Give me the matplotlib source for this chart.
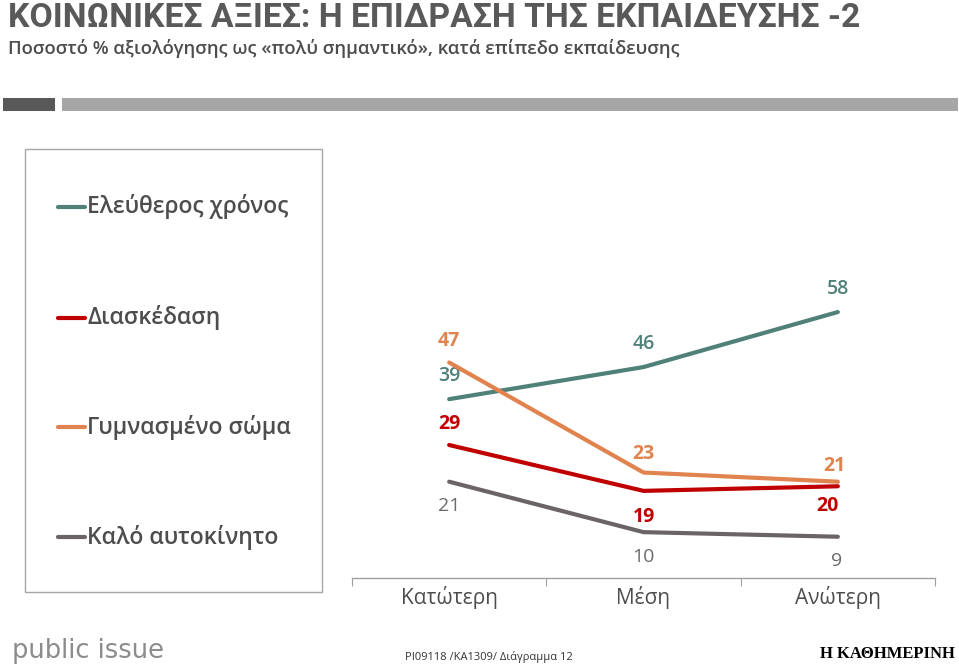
import matplotlib
matplotlib.use("Agg")
import matplotlib.pyplot as plt
from matplotlib.lines import Line2D
from matplotlib.patches import Rectangle

# ---- data ----
categories = ["Κατώτερη", "Μέση", "Ανώτερη"]
series_names = ["Ελεύθερος χρόνος", "Διασκέδαση", "Γυμνασμένο σώμα", "Καλό αυτοκίνητο"]
free_time = [39, 46, 58]
entertainment = [29, 19, 20]
fit_body = [47, 23, 21]
good_car = [21, 10, 9]

title = "ΚΟΙΝΩΝΙΚΕΣ ΑΞΙΕΣ: Η ΕΠΙΔΡΑΣΗ ΤΗΣ ΕΚΠΑΙΔΕΥΣΗΣ -2"
subtitle = "Ποσοστό % αξιολόγησης ως «πολύ σημαντικό», κατά επίπεδο εκπαίδευσης"
footer_code = "PI09118 /KA1309/ Διάγραμμα 12"

# ---- styles ----
colors = ["#4F8179", "#C00000", "#E0834E", "#6B6466"]
label_colors = ["#4F8179", "#C00000", "#E0834E", "#6B6B6B"]
label_weights = ["semibold", "bold", "bold", "normal"]
# label offsets in pixels (dx, dy) per series per point
label_offsets = [
    [(0, 23), (0, 23), (0, 23)],
    [(0, 21), (0, -26), (-10, -20)],
    [(0, 21), (0, 19), (-3, 16)],
    [(0, -24), (0, -25), (-1, -24)],
]

W, H, DPI = 959, 666, 100
FONT = ["Open Sans", "DejaVu Sans"]
TFONT = ["Roboto", "DejaVu Sans"]
TXT = "#4D4D4D"

fig = plt.figure(figsize=(W / DPI, H / DPI), dpi=DPI)
fig.patch.set_facecolor("white")

def fx(px):
    return px / W

def fy(py):
    return 1 - py / H

# header
fig.text(fx(8), fy(18), title, family=TFONT, weight="bold", fontsize=24.3,
         color="#595959", va="center", ha="left")
fig.text(fx(8), fy(49), subtitle, family=FONT, weight="semibold", fontsize=13.3,
         color=TXT, va="center", ha="left")
fig.add_artist(Rectangle((fx(3), fy(111)), fx(52), 13 / H, transform=fig.transFigure,
                         facecolor="#595959", edgecolor="none"))
fig.add_artist(Rectangle((fx(62), fy(111)), fx(896), 13 / H, transform=fig.transFigure,
                         facecolor="#A6A6A6", edgecolor="none"))

# chart axes
left, right, bottom_px, top_px = 352, 935, 578, 257
ax = fig.add_axes([fx(left), fy(bottom_px), fx(right - left), (bottom_px - top_px) / H])
ax.set_xlim(-0.5, len(categories) - 0.5)
ax.set_ylim(0, 70)
x = list(range(len(categories)))
all_series = [free_time, entertainment, fit_body, good_car]
for i, vals in enumerate(all_series):
    ax.plot(x, vals, color=colors[i], lw=3, solid_capstyle="round", zorder=3)
    for j, v in enumerate(vals):
        dx, dy = label_offsets[i][j]
        ax.annotate(str(v), (x[j], v), xytext=(dx, dy), textcoords="offset pixels",
                    ha="center", va="center", fontsize=14, family=FONT,
                    weight=label_weights[i], color=label_colors[i])

for s in ["top", "right", "left"]:
    ax.spines[s].set_visible(False)
ax.spines["bottom"].set_color("#A0A0A0")
ax.spines["bottom"].set_linewidth(1)
ax.set_yticks([])
ax.set_xticks([k - 0.5 for k in range(len(categories) + 1)])
ax.set_xticklabels([])
ax.tick_params(axis="x", which="major", length=6, color="#A0A0A0", direction="out")
ax.set_xticks(x, minor=True)
ax.set_xticklabels(categories, minor=True, fontsize=15, family=FONT, color=TXT)
ax.tick_params(axis="x", which="minor", length=0, pad=6)
ax.patch.set_alpha(0)

# legend box
fig.add_artist(Rectangle((fx(25), fy(592)), fx(297), (592 - 149) / H,
                         transform=fig.transFigure, facecolor="none",
                         edgecolor="#A6A6A6", lw=1))
leg_y = [207, 318, 427, 537]
leg_order = [0, 1, 2, 3]
for k, i in enumerate(leg_order):
    fig.add_artist(Line2D([fx(58), fx(85)], [fy(leg_y[k]), fy(leg_y[k])],
                          transform=fig.transFigure, color=colors[i], lw=3,
                          solid_capstyle="round"))
    fig.text(fx(87), fy(leg_y[k]), series_names[i], family=FONT, weight="semibold",
             fontsize=16.5, color=TXT, va="center", ha="left")

# footer
fig.text(fx(12), fy(651), "public issue", family=["DejaVu Sans"], fontsize=18.5,
         color="#8C8C8C", va="center", ha="left")
fig.text(fx(405), fy(657), footer_code, family=FONT, fontsize=8,
         color="#333333", va="center", ha="left")
fig.text(fx(955), fy(654), "Η ΚΑΘΗΜΕΡΙΝΗ", family=["Liberation Serif", "DejaVu Serif"],
         weight="bold", fontsize=12, color="black", va="center", ha="right")

fig.savefig("out.png", dpi=DPI, facecolor="white")
